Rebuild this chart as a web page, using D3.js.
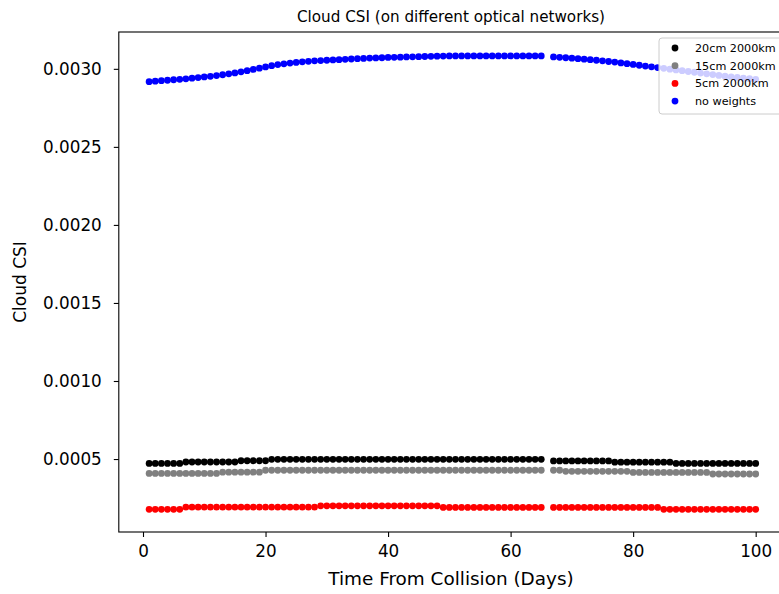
<!DOCTYPE html>
<html>
<head>
<meta charset="utf-8">
<script src="https://cdn.jsdelivr.net/npm/d3@7"></script>
<style>
	body{margin:0;background:#fff;}
	svg{display:block;font-family:"DejaVu Sans",sans-serif;}
</style>
</head>
<body>
<svg id="chart" width="779" height="594"></svg>
<script>
// days after the collision (day 66 has no sample)
const days = [1,2,3,4,5,6,7,8,9,10,11,12,13,14,15,16,17,18,19,20,
	21,22,23,24,25,26,27,28,29,30,31,32,33,34,35,36,37,38,39,40,
	41,42,43,44,45,46,47,48,49,50,51,52,53,54,55,56,57,58,59,60,
	61,62,63,64,65,67,68,69,70,71,72,73,74,75,76,77,78,79,80,
	81,82,83,84,85,86,87,88,89,90,91,92,93,94,95,96,97,98,99,100];

const seriesNames = ["20cm 2000km", "15cm 2000km", "5cm 2000km", "no weights"];
const seriesColors = ["black", "gray", "red", "blue"];

const csi20cm = [0.000472,0.000472,0.000472,0.000472,0.000472,0.000472,0.000481,0.000481,0.000481,0.000481,
	0.000481,0.000481,0.000481,0.000481,0.000481,0.000489,0.000489,0.000489,0.000489,0.000489,
	0.000498,0.000498,0.000498,0.000498,0.000498,0.000498,0.000498,0.000498,0.000498,0.000498,
	0.000498,0.000498,0.000498,0.000498,0.000498,0.000498,0.000498,0.000498,0.000498,0.000498,
	0.000498,0.000498,0.000498,0.000498,0.000498,0.000498,0.000498,0.000498,0.000498,0.000498,
	0.000498,0.000498,0.000498,0.000498,0.000498,0.000498,0.000498,0.000498,0.000498,0.000498,
	0.000498,0.000498,0.000498,0.000498,0.000498,
	0.000488,0.000488,0.000488,0.000488,0.000488,0.000488,0.000488,0.000488,0.000488,0.000488,
	0.000480,0.000480,0.000480,0.000480,0.000480,0.000480,0.000480,0.000480,0.000480,0.000480,
	0.000472,0.000472,0.000472,0.000472,0.000472,0.000472,0.000472,0.000472,0.000472,0.000472,
	0.000472,0.000472,0.000472,0.000472];

const csi15cm = [0.000408,0.000408,0.000408,0.000408,0.000408,0.000408,0.000408,0.000408,0.000408,0.000408,
	0.000408,0.000408,0.000416,0.000416,0.000416,0.000416,0.000416,0.000416,0.000416,0.000428,
	0.000428,0.000428,0.000428,0.000428,0.000428,0.000428,0.000428,0.000428,0.000428,0.000428,
	0.000428,0.000428,0.000428,0.000428,0.000428,0.000428,0.000428,0.000428,0.000428,0.000428,
	0.000428,0.000428,0.000428,0.000428,0.000428,0.000428,0.000428,0.000428,0.000428,0.000428,
	0.000428,0.000428,0.000428,0.000428,0.000428,0.000428,0.000428,0.000428,0.000428,0.000428,
	0.000428,0.000428,0.000428,0.000428,0.000428,
	0.000428,0.000428,0.000421,0.000421,0.000421,0.000421,0.000421,0.000421,0.000421,0.000421,
	0.000421,0.000421,0.000421,0.000414,0.000414,0.000414,0.000414,0.000414,0.000414,0.000414,
	0.000414,0.000414,0.000414,0.000414,0.000414,0.000414,0.000404,0.000404,0.000404,0.000404,
	0.000404,0.000404,0.000404,0.000404];

const csi5cm = [0.000178,0.000178,0.000178,0.000178,0.000178,0.000178,0.000192,0.000192,0.000192,0.000192,
	0.000192,0.000192,0.000192,0.000192,0.000192,0.000192,0.000192,0.000192,0.000192,0.000192,
	0.000192,0.000192,0.000192,0.000192,0.000192,0.000192,0.000192,0.000192,0.000200,0.000200,
	0.000200,0.000200,0.000200,0.000200,0.000200,0.000200,0.000200,0.000200,0.000200,0.000200,
	0.000200,0.000200,0.000200,0.000200,0.000200,0.000200,0.000200,0.000200,0.000190,0.000190,
	0.000190,0.000190,0.000190,0.000190,0.000190,0.000190,0.000190,0.000190,0.000190,0.000190,
	0.000190,0.000190,0.000190,0.000190,0.000190,
	0.000190,0.000190,0.000190,0.000190,0.000190,0.000190,0.000190,0.000190,0.000190,0.000190,
	0.000190,0.000190,0.000190,0.000190,0.000190,0.000190,0.000190,0.000190,0.000178,0.000178,
	0.000178,0.000178,0.000178,0.000178,0.000178,0.000178,0.000178,0.000178,0.000178,0.000178,
	0.000178,0.000178,0.000178,0.000178];

const csiNoWeights = [0.002918,0.002921,0.002924,0.002927,0.002930,0.002933,0.002936,0.002940,0.002944,0.002948,
	0.002952,0.002957,0.002962,0.002968,0.002974,0.002981,0.002988,0.002996,0.003004,0.003012,
	0.003020,0.003027,0.003032,0.003037,0.003041,0.003045,0.003048,0.003051,0.003053,0.003055,
	0.003057,0.003059,0.003061,0.003063,0.003065,0.003067,0.003069,0.003070,0.003071,0.003073,
	0.003074,0.003075,0.003076,0.003077,0.003078,0.003079,0.003080,0.003081,0.003082,0.003083,
	0.003083,0.003083,0.003083,0.003083,0.003083,0.003083,0.003083,0.003083,0.003083,0.003083,
	0.003083,0.003083,0.003083,0.003083,0.003083,
	0.003076,0.003074,0.003071,0.003068,0.003065,0.003062,0.003059,0.003055,0.003051,0.003047,
	0.003043,0.003038,0.003033,0.003028,0.003023,0.003018,0.003013,0.003008,0.003003,0.002998,
	0.002993,0.002988,0.002983,0.002978,0.002973,0.002968,0.002963,0.002958,0.002953,0.002949,
	0.002945,0.002941,0.002937,0.002933];

const xTicks = [0, 20, 40, 60, 80, 100];
const yTicks = [0.0005, 0.0010, 0.0015, 0.0020, 0.0025, 0.0030];

let allSeries = [csi20cm, csi15cm, csi5cm, csiNoWeights];

let svg = d3.select("#chart"),
	plotLeft = 118.8, plotRight = 786, plotTop = 32, plotBottom = 532,
	x = d3.scaleLinear().domain([-3.95, 104.95]).range([plotLeft, plotRight]),
	y = d3.scaleLinear().domain([0.0000325, 0.003236]).range([plotBottom, plotTop]);

// points
allSeries.forEach(function(values, s){
	svg.append("g").selectAll("circle")
		.data(days.map(function(d, i){ return {day: d, value: values[i]}; }))
		.enter().append("circle")
		.attr("cx", function(d){ return x(d.day); })
		.attr("cy", function(d){ return y(d.value); })
		.attr("r", 3.4)
		.attr("fill", seriesColors[s]);
});

// axes
let xAxis = svg.append("g").attr("transform", "translate(0," + plotBottom + ")")
	.call(d3.axisBottom(x).tickValues(xTicks).tickSizeOuter(0).tickPadding(8).tickSize(5));
let yAxis = svg.append("g").attr("transform", "translate(" + plotLeft + ",0)")
	.call(d3.axisLeft(y).tickValues(yTicks).tickFormat(d3.format(".4f")).tickSizeOuter(0).tickPadding(12).tickSize(5));
[xAxis, yAxis].forEach(function(a){
	a.select(".domain").remove();
	a.selectAll("text").attr("font-size", 16.8).attr("font-family", "DejaVu Sans").attr("fill", "#000");
	a.selectAll("line").attr("stroke", "#000").attr("stroke-width", 1.1);
});

// frame
svg.append("rect")
	.attr("x", plotLeft).attr("y", plotTop)
	.attr("width", plotRight - plotLeft).attr("height", plotBottom - plotTop)
	.attr("fill", "none").attr("stroke", "#000").attr("stroke-width", 1.1);

// labels
svg.append("text").attr("x", 451).attr("y", 22)
	.attr("text-anchor", "middle").attr("font-size", 15.2)
	.text("Cloud CSI (on different optical networks)");
svg.append("text").attr("x", 451).attr("y", 585)
	.attr("text-anchor", "middle").attr("font-size", 18.4)
	.text("Time From Collision (Days)");
svg.append("text").attr("transform", "translate(26," + (plotTop + plotBottom) / 2 + ") rotate(-90)")
	.attr("text-anchor", "middle").attr("font-size", 17)
	.text("Cloud CSI");

// legend
let legend = svg.append("g").attr("transform", "translate(659,38)");
legend.append("rect")
	.attr("width", 140).attr("height", 76).attr("rx", 3)
	.attr("fill", "#fff").attr("fill-opacity", 0.8)
	.attr("stroke", "#ccc");
seriesNames.forEach(function(name, i){
	let row = legend.append("g").attr("transform", "translate(0," + (10 + i * 17.7) + ")");
	row.append("circle").attr("cx", 16).attr("cy", 0).attr("r", 3.4).attr("fill", seriesColors[i]);
	row.append("text").attr("x", 36).attr("y", 3.8).attr("font-size", 11.2).text(name);
});
</script>
</body>
</html>
